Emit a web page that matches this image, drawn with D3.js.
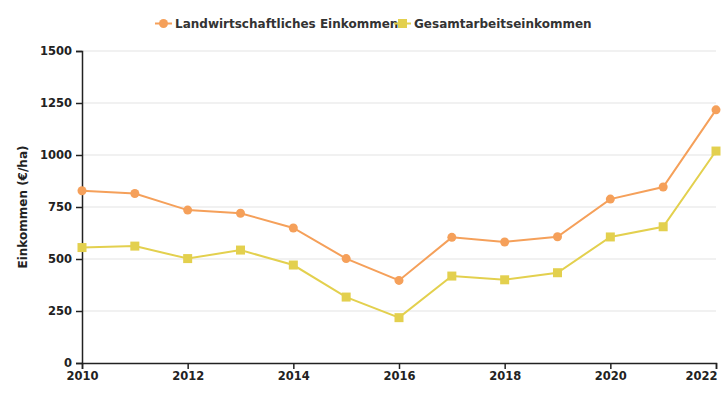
<!DOCTYPE html>
<html><head><meta charset="utf-8">
<script src="https://cdn.jsdelivr.net/npm/d3@7"></script>
<style>body{margin:0;background:#fff;} svg{display:block;font-family:"DejaVu Sans",sans-serif;}</style>
</head><body><svg id="c" width="725" height="400"></svg>
<script>
const years = [2010,2011,2012,2013,2014,2015,2016,2017,2018,2019,2020,2021,2022];
const landwirtschaftlich = [828,815,735,720,649,502,397,604,582,607,788,846,1217];
const gesamtarbeit = [555,562,502,543,471,317,218,418,400,434,606,655,1019];
const yTicks = [0,250,500,750,1000,1250,1500];
const xTicks = [2010,2012,2014,2016,2018,2020,2022];
const seriesNames = ["Landwirtschaftliches Einkommen","Gesamtarbeitseinkommen"];
const colors = ["#F5A05A","#E3D04E"];

const svg = d3.select("#c");
const m = {l:82, r:9, t:51, b:37};
const W = 725, H = 400;
const x = d3.scaleLinear().domain([2010,2022]).range([m.l, W-m.r]);
const y = d3.scaleLinear().domain([0,1500]).range([H-m.b, m.t]);

// grid
svg.append("g").selectAll("line").data(yTicks.filter(d=>d>0)).join("line")
  .attr("x1", m.l).attr("x2", W-m.r).attr("y1", d=>y(d)).attr("y2", d=>y(d))
  .attr("stroke","#e3e3e3").attr("stroke-width",1);

// axes
const yAx = svg.append("g").attr("transform",`translate(${m.l},0)`)
  .call(d3.axisLeft(y).tickValues(yTicks).tickFormat(d3.format("d")).tickSize(6).tickPadding(4));
const xAx = svg.append("g").attr("transform",`translate(0,${H-m.b})`)
  .call(d3.axisBottom(x).tickValues(xTicks).tickFormat(d3.format("d")).tickSize(6).tickPadding(3));
[yAx,xAx].forEach(g=>{
  g.selectAll(".domain").attr("stroke","#222").attr("stroke-width",1.5);
  g.selectAll(".tick line").attr("stroke","#222").attr("stroke-width",1.5);
  g.selectAll("text").attr("fill","#222").attr("font-size",11.5).attr("font-weight","bold")
    .attr("font-family","'DejaVu Sans',sans-serif");
});
xAx.selectAll(".tick text").filter(d=>d===2022).attr("text-anchor","end").attr("dx","1");

svg.append("text").attr("transform",`translate(27,${(m.t+H-m.b)/2}) rotate(-90)`)
  .attr("text-anchor","middle").attr("font-size",12).attr("font-weight","bold").attr("fill","#222")
  .text("Einkommen (€/ha)");

const line = d3.line().x((d,i)=>x(years[i])).y(d=>y(d));
[landwirtschaftlich, gesamtarbeit].forEach((vals,k)=>{
  svg.append("path").datum(vals).attr("d",line).attr("fill","none")
    .attr("stroke",colors[k]).attr("stroke-width",2);
  if(k===0){
    svg.append("g").selectAll("circle").data(vals).join("circle")
      .attr("cx",(d,i)=>x(years[i])).attr("cy",d=>y(d)).attr("r",4.5).attr("fill",colors[k]);
  } else {
    svg.append("g").selectAll("rect").data(vals).join("rect")
      .attr("x",(d,i)=>x(years[i])-4.5).attr("y",d=>y(d)-4.5).attr("width",9).attr("height",9).attr("fill",colors[k]);
  }
});

// legend
const lg = svg.append("g");
const lx = [155, 394];
seriesNames.forEach((n,k)=>{
  const g = lg.append("g").attr("transform",`translate(${lx[k]},23.5)`);
  g.append("line").attr("x1",0).attr("x2",17).attr("stroke",colors[k]).attr("stroke-width",2);
  if(k===0) g.append("circle").attr("cx",8.5).attr("r",4.5).attr("fill",colors[k]);
  else g.append("rect").attr("x",4).attr("y",-4.5).attr("width",9).attr("height",9).attr("fill",colors[k]);
  g.append("text").attr("x",20).attr("dy","0.35em").attr("font-size",12).attr("font-weight","bold")
    .attr("fill","#333").text(n);
});
</script></body></html>
